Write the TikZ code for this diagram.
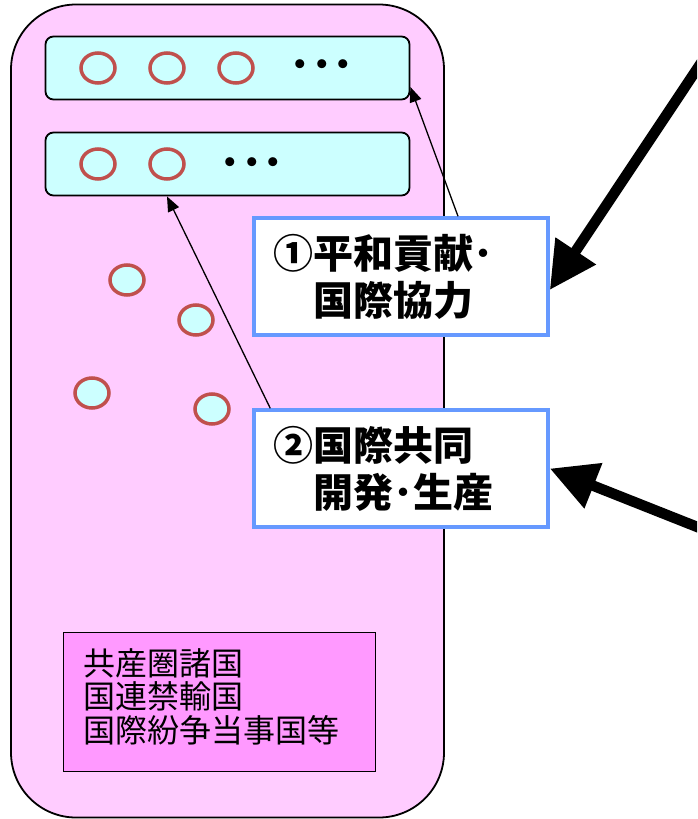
\documentclass[tikz,border=0pt]{standalone}
\usepackage{fontspec}
\setmainfont{Noto Sans CJK JP}
\usetikzlibrary{arrows.meta,shapes.geometric}
\definecolor{blocpink}{HTML}{FFCCFF}
\definecolor{rowcyan}{HTML}{CCFFFF}
\definecolor{ringred}{HTML}{C0504D}
\definecolor{labblue}{HTML}{6699FF}
\definecolor{banpink}{HTML}{FF99FF}

\begin{document}
\begin{tikzpicture}[x=1pt, y=-1pt, >=Triangle,
	main box/.style={draw, line width=1.8pt, fill=blocpink, rounded corners=65pt, minimum width=433pt, minimum height=813pt, inner sep=0pt},
	row box/.style={draw, line width=1.8pt, fill=rowcyan, rounded corners=8pt, minimum width=364pt, minimum height=63pt, inner sep=0pt},
	member node/.style={ellipse, draw=ringred, line width=3.5pt, fill=rowcyan, minimum width=34pt, minimum height=30pt, inner sep=0pt},
	dots/.style={font=\fontsize{43}{43}\selectfont\bfseries, inner sep=0pt},
	label box/.style={draw=labblue, line width=3.5pt, fill=white, minimum width=294pt, minimum height=117pt, text width=256pt, align=left, inner sep=0pt, font=\fontsize{40}{47}\selectfont\bfseries},
	ban box/.style={draw, line width=1.8pt, fill=banpink, minimum width=312pt, minimum height=139pt, inner sep=0pt},
	ban text/.style={text width=272pt, align=left, inner sep=0pt, font=\fontsize{32}{33.5}\selectfont},
	thin link/.style={->, >={Triangle[length=15pt, width=12pt]}, line width=1.3pt},
	big arrow/.style={->, >={Triangle[length=47pt, width=46pt]}, line width=10.5pt}]
	\clip (0,0) rectangle (697,819);
	\node[main box] (bloc) at (227.5,411) {};
	% member rows
	\node[row box] (row1) at (227.5,68) {};
	\node[row box] (row2) at (227.5,164) {};
	\foreach \x/\n in {98/a,167/b,236/c}
		\node[member node] (r1\n) at (\x,68) {};
	\node[dots] (dots1) at (322,70) {･･･};
	\foreach \x/\n in {98/a,167/b}
		\node[member node] (r2\n) at (\x,164) {};
	\node[dots] (dots2) at (252,168) {･･･};
	% loose members
	\node[member node] (m1) at (127,280) {};
	\node[member node] (m2) at (196,320) {};
	\node[member node] (m3) at (92,393) {};
	\node[member node] (m4) at (212,409) {};
	\node[ban box] (bans) at (219.5,702) {};
	\node[ban text] (bantext) at ([yshift=5.5pt]bans.center) {共産圏諸国\\国連禁輸国\\国際紛争当事国等};
	\node[label box] (lab1) at (401,276.5) {①平和貢献･\\\hspace*{1em}国際協力};
	\node[label box] (lab2) at (401,468.5) {②国際共同\\\hspace*{1em}開発･生産};
	\coordinate (far1) at (711,48);
	\coordinate (far2) at (715,534);
	\draw[thin link] ([xshift=57pt]lab1.north) -- ([yshift=-19pt]row1.east);
	\draw[thin link] ([xshift=18pt]lab2.north west) -- (r2b |- row2.south);
	\draw[big arrow] (far1) -- ([yshift=-13.5pt]lab1.east);
	\draw[big arrow] (far2) -- (lab2.east);
\end{tikzpicture}
\end{document}
